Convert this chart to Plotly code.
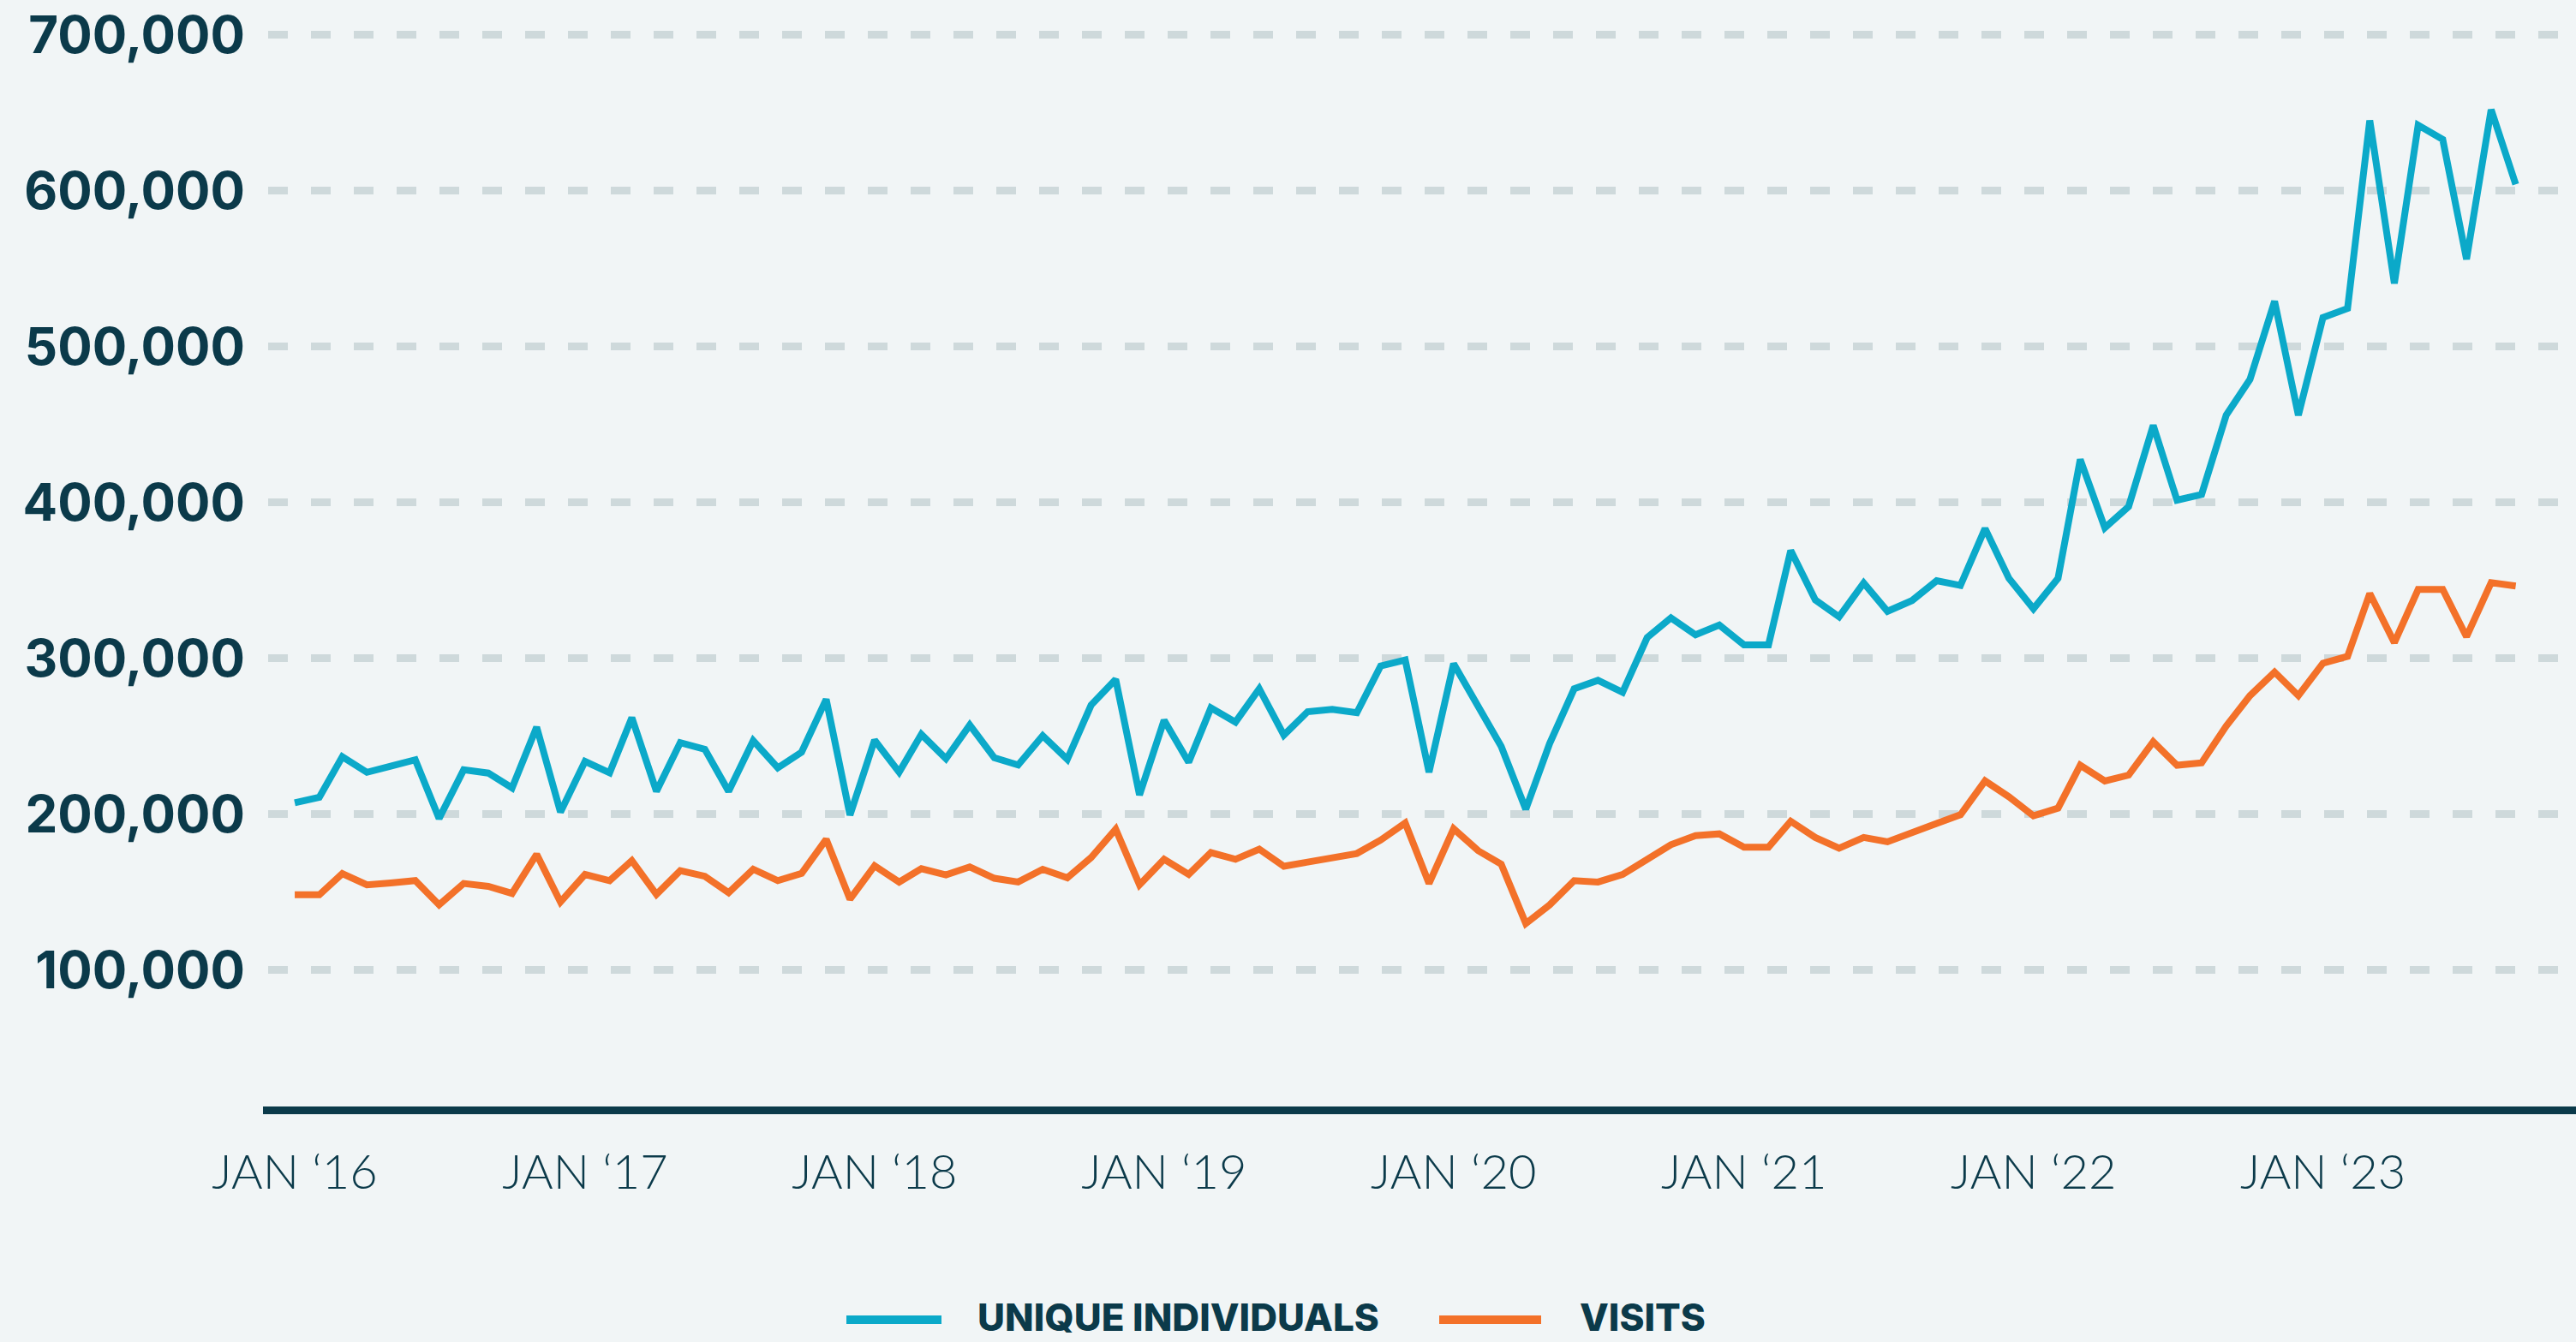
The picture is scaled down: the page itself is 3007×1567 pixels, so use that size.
import pandas as pd
import plotly.graph_objects as go

# ---- data (monthly, Jan 2016 - Sep 2023) ----
months = pd.date_range("2016-01-01", periods=93, freq="MS")

unique_individuals = [
    207500, 211000, 237000, 227000, 231000, 235000, 197400, 228600, 226500, 217000, 256000, 201500,
    234000, 226700, 262000, 214800, 246000, 241800, 214800, 247300, 229900, 239900, 273800, 199600,
    247600, 227100, 251300, 235700, 257300, 236300, 231700, 250500, 235300, 270100, 286600, 212500,
    260400, 233500, 268300, 259200, 280600, 250900, 265900, 267400, 265200, 295200, 299100, 227100,
    296700, 270000, 243600, 203300, 245400, 280600, 286000, 278300, 313400, 326100, 315200, 321500,
    308800, 308800, 369300, 337600, 326800, 348500, 330300, 337200, 349900, 346900, 383400, 351500,
    331900, 351500, 427700, 383900, 397500, 449600, 401600, 405300, 456100, 479100, 529200, 456100,
    518800, 524600, 645200, 540700, 642200, 633000, 556200, 652100, 604200,
]

visits = [
    148400, 148400, 162000, 154800, 156000, 157500, 142000, 155700, 153800, 149300, 174400, 143800,
    161500, 157500, 170300, 148700, 163900, 160300, 149800, 164800, 157500, 162100, 184000, 145600,
    167000, 156600, 165200, 161200, 166300, 159000, 156600, 164800, 159300, 172300, 190500, 154800,
    171200, 161500, 175500, 171200, 177700, 166700, 169400, 172500, 174900, 183500, 194500, 155700,
    190800, 176700, 168100, 130000, 141900, 157500, 156600, 161400, 171600, 180600, 186400, 187500,
    179000, 179000, 195600, 185200, 178300, 185200, 182400, 188700, 194200, 199800, 221500, 211300,
    199100, 204000, 231500, 221400, 225200, 246600, 231500, 233100, 256700, 276200, 291300, 276200,
    297000, 301400, 341700, 310200, 344300, 344300, 314000, 348700, 346500,
]

series_names = ["UNIQUE INDIVIDUALS", "VISITS"]
y_ticks = [100000, 200000, 300000, 400000, 500000, 600000, 700000]
y_tick_labels = ["100,000", "200,000", "300,000", "400,000", "500,000", "600,000", "700,000"]
x_tick_dates = ["2016-01-01", "2017-01-01", "2018-01-01", "2019-01-01",
                "2020-01-01", "2021-01-01", "2022-01-01", "2023-01-01"]
x_tick_labels = ["JAN \u201816", "JAN \u201817", "JAN \u201818", "JAN \u201819",
                 "JAN \u201820", "JAN \u201821", "JAN \u201822", "JAN \u201823"]

# ---- styles ----
BG = "#F1F5F6"
NAVY = "#0B3A4A"
BLUE = "#0BA9C9"
ORANGE = "#F37129"
GRID = "#CED9DB"
colors = [BLUE, ORANGE]

W, H = 3007, 1567
ML, MR, MT, MB = 307, 0, 30, 275
PW, PH = W - ML - MR, H - MT - MB


def px_x(px):
    return (px - ML) / PW


def px_y(py):
    return (H - MB - py) / PH


fig = go.Figure()
for name, vals, col in zip(series_names, [unique_individuals, visits], colors):
    fig.add_trace(go.Scatter(x=months, y=vals, name=name, mode="lines",
                             line=dict(color=col, width=8), showlegend=False))

# custom legend with long swatches (matches the original's look)
legend_items = [
    dict(x0=988, x1=1099, tx=1139),
    dict(x0=1680, x1=1799, tx=1842),
]
LEG_Y = 1541
for item, name, col in zip(legend_items, series_names, colors):
    fig.add_shape(type="line", xref="paper", yref="paper",
                  x0=px_x(item["x0"]), x1=px_x(item["x1"]),
                  y0=px_y(LEG_Y), y1=px_y(LEG_Y),
                  line=dict(color=col, width=10))
    fig.add_annotation(xref="paper", yref="paper", x=px_x(item["tx"]), y=px_y(LEG_Y - 3),
                       xanchor="left", yanchor="middle", showarrow=False, text=name,
                       font=dict(family="Inter", size=44, color=NAVY, weight=800))

fig.update_layout(
    width=W, height=H, autosize=False,
    paper_bgcolor=BG, plot_bgcolor=BG,
    margin=dict(l=ML, r=MR, t=MT, b=MB, pad=0),
    showlegend=False,
    xaxis=dict(
        type="date",
        range=["2015-11-22", "2023-11-16"],
        tickvals=x_tick_dates, ticktext=x_tick_labels,
        showgrid=False, zeroline=False,
        showline=True, linecolor=NAVY, linewidth=9,
        ticks="", ticklabelstandoff=20,
        tickfont=dict(family="Lato", size=56, color=NAVY, weight=300),
    ),
    yaxis=dict(
        range=[12600, 706000],
        tickvals=y_ticks, ticktext=y_tick_labels,
        showgrid=True, gridcolor=GRID, gridwidth=9, griddash="0px,6px,23px,21px",
        zeroline=False, showline=False, ticks="", ticklabelstandoff=20,
        tickfont=dict(family="Inter", size=60, color=NAVY, weight=700),
    ),
)

fig.write_html(
    "out.html",
    config={"displayModeBar": False},
    post_script="document.body.style.margin='0';document.body.style.overflow='hidden';"
                "document.body.style.background='" + BG + "';",
)
